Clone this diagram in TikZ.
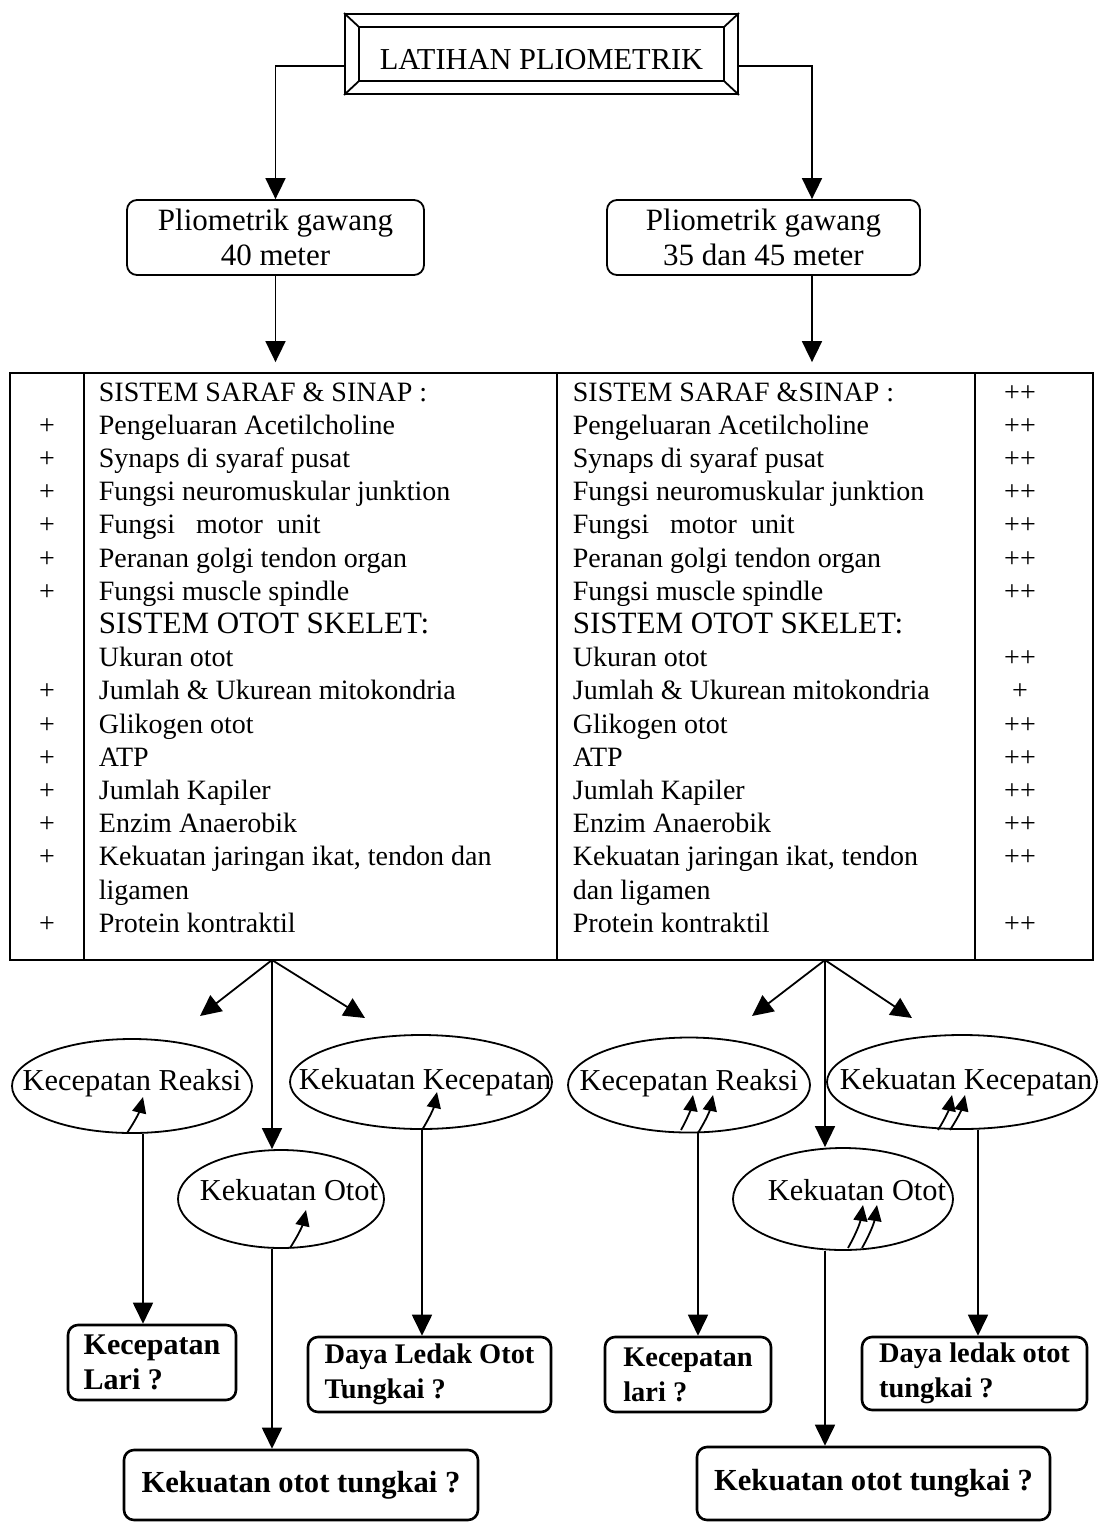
\documentclass[tikz,border=0pt]{standalone}
\usepackage{fontspec}
\setmainfont{Liberation Serif}
\usetikzlibrary{arrows.meta,positioning,calc,shapes.geometric}
\newcommand{\judul}[1]{{\fontsize{15.5}{17}\selectfont #1}}

\begin{document}
\begin{tikzpicture}[
    x=0.5pt, y=-0.5pt,
    line width=0.9pt,
    arr/.style={-{Triangle[length=10.5pt,width=10pt]}},
    kecil/.style={-{Triangle[length=8pt,width=7pt]}},
    gawang/.style={draw, rounded corners=5pt, align=center, minimum height=37.5pt,
                   font=\fontsize{15.5}{17.5}\selectfont},
    celltext/.style={anchor=base west, inner sep=0pt, font=\fontsize{14}{16}\selectfont},
    tanda/.style={anchor=base, inner sep=0pt, font=\fontsize{14}{16}\selectfont},
    elipsteks/.style={inner sep=0pt, font=\fontsize{15.2}{17}\selectfont},
    elips/.style 2 args={ellipse, draw, inner sep=0pt, label={[elipsteks,#2]center:#1}},
    hasil/.style={draw, rounded corners=5pt, line width=1.3pt, align=left, inner sep=2pt,
                  minimum height=37.5pt, font=\fontsize{14.2}{17.5}\selectfont\bfseries}
]
\useasboundingbox (0,0) rectangle (1102,1522);

% judul
\node[draw, minimum width=196.5pt, minimum height=40pt, text depth=0pt, text height=11pt,
      inner sep=0pt, font=\fontsize{15.2}{17}\selectfont,
      label={[font=\fontsize{15.2}{17}\selectfont, yshift=-3pt]center:LATIHAN PLIOMETRIK}]
    (latihan) at (541.5,54) {};
\draw ($(latihan.north west)+(15,14)$) rectangle ($(latihan.south east)+(-15,-14)$);
\foreach \a/\dx/\dy in {north west/15/14, north east/-15/14, south west/15/-14, south east/-15/-14}
    \draw (latihan.\a) -- ++(\dx,\dy);

\node[gawang, minimum width=148.5pt] (gawangL) at (275.5,237.5) {Pliometrik gawang\\40 meter};
\node[gawang, minimum width=156.5pt] (gawangR) at (763.5,237.5) {Pliometrik gawang\\35 dan 45 meter};
\coordinate (masukR) at ($(gawangR.south)+(48.5,0)$);

\draw[arr] ($(latihan.west)+(0,12)$) -| (gawangL.north);
\draw[arr] ($(latihan.east)+(0,12)$) -| ($(gawangR.north)+(48.5,0)$);

% tabel
\node[draw, minimum width=541.5pt, minimum height=293.5pt, inner sep=0pt] (tabel) at (551.5,666.5) {};
\foreach \x in {84,557,975}
    \draw (\x,373) -- (\x,960);

\draw[arr, shorten >=5pt] (gawangL.south) -- (gawangL.south |- tabel.north);
\draw[arr, shorten >=5pt] (masukR) -- (masukR |- tabel.north);

\foreach \txt [count=\r] in {
    {SISTEM SARAF \& SINAP :},
    Pengeluaran Acetilcholine,
    Synaps di syaraf pusat,
    Fungsi neuromuskular junktion,
    Fungsi\ \ \ motor\ \ unit,
    Peranan golgi tendon organ,
    Fungsi muscle spindle,
    \judul{SISTEM OTOT SKELET:},
    Ukuran otot,
    Jumlah \& Ukurean mitokondria,
    Glikogen otot,
    ATP,
    Jumlah Kapiler,
    Enzim Anaerobik,
    {Kekuatan jaringan ikat, tendon dan},
    ligamen,
    Protein kontraktil}
    \node[celltext] (kiri\r) at (98,{401+33.2*(\r-1)}) {\txt};

\foreach \txt [count=\r] in {
    {SISTEM SARAF \&SINAP :},
    Pengeluaran Acetilcholine,
    Synaps di syaraf pusat,
    Fungsi neuromuskular junktion,
    Fungsi\ \ \ motor\ \ unit,
    Peranan golgi tendon organ,
    Fungsi muscle spindle,
    \judul{SISTEM OTOT SKELET:},
    Ukuran otot,
    Jumlah \& Ukurean mitokondria,
    Glikogen otot,
    ATP,
    Jumlah Kapiler,
    Enzim Anaerobik,
    {Kekuatan jaringan ikat, tendon},
    dan ligamen,
    Protein kontraktil}
    \node[celltext] (kanan\r) at (572,{401+33.2*(\r-1)}) {\txt};

\foreach \r in {2,3,4,5,6,7,10,11,12,13,14,15,17}
    \node[tanda] (plusL\r) at (47,{401+33.2*(\r-1)}) {+};
\foreach \r in {1,2,3,4,5,6,7,9,11,12,13,14,15,17}
    \node[tanda] (plusR\r) at (1020,{401+33.2*(\r-1)}) {++};
\node[tanda] (plusR10) at (1020,{401+33.2*9}) {+};

% elips
\node[elips={Kecepatan Reaksi}{yshift=1.5pt}, minimum width=120pt, minimum height=47pt] (reaksiL) at (132,1086) {};
\node[elips={Kekuatan Kecepatan}{xshift=2pt}, minimum width=131pt, minimum height=47pt] (kecepL) at (421,1082) {};
\node[elips={Kekuatan Otot}{xshift=4pt, yshift=4.5pt}, minimum width=103pt, minimum height=49pt] (ototL) at (281,1199) {};
\node[elips={Kecepatan Reaksi}{yshift=1pt}, minimum width=121pt, minimum height=47.5pt] (reaksiR) at (689,1085) {};
\node[elips={Kekuatan Kecepatan}{xshift=2pt}, minimum width=135pt, minimum height=47pt] (kecepR) at (962,1082) {};
\node[elips={Kekuatan Otot}{xshift=7pt, yshift=4.5pt}, minimum width=110pt, minimum height=51pt] (ototR) at (843,1199) {};

% hasil
\node[hasil, minimum width=84pt, font=\fontsize{15}{17.5}\selectfont\bfseries] (lariL) at (152,1362.5) {Kecepatan\\Lari ?};
\node[hasil, minimum width=121.5pt] (ledakL) at (429.5,1374.5) {Daya Ledak Otot\\Tungkai ?};
\node[hasil, minimum width=177pt, minimum height=35pt, font=\fontsize{15.3}{17}\selectfont\bfseries] (kuatL) at (301,1485) {Kekuatan otot tungkai ?};
\node[hasil, minimum width=83pt] (lariR) at (688,1374.5) {Kecepatan\\lari ?};
\node[hasil, minimum width=112.5pt, minimum height=36.5pt] (ledakR) at (974.5,1373.5) {Daya ledak otot\\tungkai ?};
\node[hasil, minimum width=176.5pt, minimum height=36.5pt, font=\fontsize{15.3}{17}\selectfont\bfseries] (kuatR) at (873.5,1483.5) {Kekuatan otot tungkai ?};

% cabang di bawah tabel
\coordinate (pecahL) at (272,960);
\coordinate (pecahR) at (825,960);
\coordinate (ujungLa) at (200,1016);
\coordinate (ujungLb) at (365,1018);
\coordinate (ujungRa) at (752,1016);
\coordinate (ujungRb) at (912,1018);
\draw[arr] (pecahL) -- (ujungLa);
\draw[arr] (pecahL) -- (ujungLb);
\draw[arr] (pecahR) -- (ujungRa);
\draw[arr] (pecahR) -- (ujungRb);
\draw[arr] (pecahL) -- (pecahL |- ototL.north);
\draw[arr] (pecahR) -- (pecahR |- ototR.north);

\draw[arr] (reaksiL.south -| 143,0) -- (lariL.north -| 143,0);
\draw[arr] (kecepL.south -| 422,0) -- (ledakL.north -| 422,0);
\draw[arr] (pecahL |- ototL.south) -- (pecahL |- kuatL.north);
\draw[arr] (reaksiR.south -| 698,0) -- (lariR.north -| 698,0);
\draw[arr] (kecepR.south -| 978,0) -- (ledakR.north -| 978,0);
\draw[arr] (pecahR |- ototR.south) -- (pecahR |- kuatR.north);

% panah kecil
\draw[kecil] ($(reaksiL)+(-5,47)$) to[bend right=10] ($(reaksiL)+(11,11)$);
\draw[kecil] ($(kecepL)+(1,48)$) to[bend right=10] ($(kecepL)+(16,10)$);
\draw[kecil] ($(ototL)+(9,49)$) to[bend right=10] ($(ototL)+(25,11)$);
\draw[kecil] ($(reaksiR)+(-8,45)$) to[bend right=10] ($(reaksiR)+(4,10)$);
\draw[kecil] ($(reaksiR)+(9,48)$) to[bend right=10] ($(reaksiR)+(24,10)$);
\draw[kecil] ($(kecepR)+(-24,48)$) to[bend right=10] ($(kecepR)+(-10,13)$);
\draw[kecil] ($(kecepR)+(-12,48)$) to[bend right=10] ($(kecepR)+(3,13)$);
\draw[kecil] ($(ototR)+(5,49)$) to[bend right=10] ($(ototR)+(20,6)$);
\draw[kecil] ($(ototR)+(19,49)$) to[bend right=10] ($(ototR)+(34,6)$);
\end{tikzpicture}
\end{document}
